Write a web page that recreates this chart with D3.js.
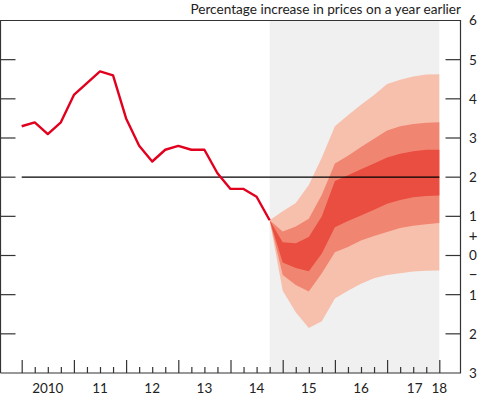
<!DOCTYPE html>
<html>
<head>
<meta charset="utf-8">
<script src="https://cdn.jsdelivr.net/npm/d3@7"></script>
<style>
  body { margin: 0; background: #fff; }
  svg { display: block; font-family: Lato, "Open Sans", sans-serif; }
</style>
</head>
<body>
<div id="chart"></div>
<script>
// quarters run from 2010 Q1 (index 0) to 2018 Q1 (index 32)
var yearLabels = ['2010', '11', '12', '13', '14', '15', '16', '17'];
var lastLabel = '18';
var yTicks = [6, 5, 4, 3, 2, 1, 0, -1, -2, -3];
var yTickLabels = ['6', '5', '4', '3', '2', '1', '0', '1', '2', '3'];

// CPI outturns, 2010 Q1 - 2014 Q4
var cpi = [3.3, 3.4, 3.1, 3.4, 4.1, 4.4, 4.7, 4.6, 3.5, 2.8, 2.4, 2.7,
           2.8, 2.7, 2.7, 2.1, 1.7, 1.7, 1.5, 0.9];

// projection bands, 2014 Q4 - 2018 Q1
var fanStart = 19;
var hi90 = [0.9, 1.13, 1.34, 1.8, 2.5, 3.3, 3.58, 3.85, 4.1, 4.38, 4.49, 4.57, 4.62, 4.63];
var hi60 = [0.9, 0.61, 0.74, 0.94, 1.55, 2.35, 2.55, 2.77, 2.98, 3.19, 3.3, 3.36, 3.39, 3.4];
var hi30 = [0.9, 0.34, 0.31, 0.47, 1.0, 1.9, 2.05, 2.2, 2.35, 2.5, 2.6, 2.66, 2.7, 2.7];
var lo30 = [0.9, -0.18, -0.32, -0.4, 0.05, 0.72, 0.88, 1.02, 1.17, 1.32, 1.42, 1.49, 1.52, 1.53];
var lo60 = [0.9, -0.5, -0.75, -0.92, -0.45, 0.08, 0.22, 0.38, 0.5, 0.6, 0.7, 0.76, 0.8, 0.83];
var lo90 = [0.9, -0.9, -1.45, -1.85, -1.68, -1.1, -0.9, -0.72, -0.58, -0.5, -0.45, -0.41, -0.39, -0.38];
var target = 2;

var w = 479, h = 395;
var frame = {left: 0.5, right: 460.5, top: 20.5, bottom: 373};
var axisColor = '#333';
var colors = {light: '#f7c0ad', mid: '#f08672', dark: '#e94e40', line: '#e2001f', shade: '#f0f0f0'};

var x = d3.scaleLinear().domain([0, 32]).range([21.7, 439.3]);
var y = d3.scaleLinear().domain([-3, 6]).range([frame.bottom, frame.top]);

var svg = d3.select('#chart').append('svg')
  .attr('width', w)
  .attr('height', h);

// projection period background
svg.append('rect')
  .attr('x', x(fanStart))
  .attr('y', frame.top)
  .attr('width', x(32) - x(fanStart))
  .attr('height', frame.bottom - frame.top)
  .attr('fill', colors.shade);

// fan bands, drawn outermost first
var fanRows = hi90.map(function(d, i) {
  return {q: fanStart + i, hi90: d, hi60: hi60[i], hi30: hi30[i], lo30: lo30[i], lo60: lo60[i], lo90: lo90[i]};
});

var bands = [['lo90', 'hi90', colors.light], ['lo60', 'hi60', colors.mid], ['lo30', 'hi30', colors.dark]];
bands.forEach(function(b) {
  var area = d3.area()
    .x(function(d) { return x(d.q); })
    .y0(function(d) { return y(d[b[0]]); })
    .y1(function(d) { return y(d[b[1]]); });
  svg.append('path')
    .datum(fanRows)
    .attr('d', area)
    .attr('fill', b[2]);
});

// inflation target line
svg.append('line')
  .attr('x1', x(0))
  .attr('x2', x(32))
  .attr('y1', y(target))
  .attr('y2', y(target))
  .attr('stroke', '#000')
  .attr('stroke-width', 1.3);

// outturn line
var valueline = d3.line()
  .x(function(d, i) { return x(i); })
  .y(function(d) { return y(d); });

svg.append('path')
  .datum(cpi)
  .attr('d', valueline)
  .attr('fill', 'none')
  .attr('stroke', colors.line)
  .attr('stroke-width', 2.4)
  .attr('stroke-linejoin', 'round');

// frame
svg.append('path')
  .attr('d', 'M' + frame.left + ',' + frame.bottom + 'V' + frame.top + 'H' + frame.right + 'V' + frame.bottom + 'H' + frame.left)
  .attr('fill', 'none')
  .attr('stroke', axisColor)
  .attr('stroke-width', 1.2);

// y ticks, both sides, inward
var yTickG = svg.append('g');
yTicks.forEach(function(v) {
  if (v === 6 || v === -3) return;
  yTickG.append('line')
    .attr('x1', frame.left).attr('x2', frame.left + 15)
    .attr('y1', y(v)).attr('y2', y(v))
    .attr('stroke', axisColor).attr('stroke-width', 1.2);
  yTickG.append('line')
    .attr('x1', frame.right - 15).attr('x2', frame.right)
    .attr('y1', y(v)).attr('y2', y(v))
    .attr('stroke', axisColor).attr('stroke-width', 1.2);
});

svg.append('g')
  .selectAll('text')
  .data(yTicks)
  .join('text')
  .attr('x', 473)
  .attr('y', function(d) { return y(d); })
  .attr('dy', '0.36em')
  .attr('text-anchor', 'middle')
  .attr('font-size', 13.5)
  .attr('fill', '#222')
  .text(function(d, i) { return yTickLabels[i]; });

// sign markers around zero
svg.append('text')
  .attr('x', 473).attr('y', y(0.5)).attr('dy', '0.36em')
  .attr('text-anchor', 'middle').attr('font-size', 15).attr('fill', '#222')
  .text('+');
svg.append('text')
  .attr('x', 473).attr('y', y(-0.5)).attr('dy', '0.36em')
  .attr('text-anchor', 'middle').attr('font-size', 15).attr('fill', '#222')
  .text('−');

// x axis: quarterly ticks, years taller
var xAxis = d3.axisBottom(x)
  .tickValues(d3.range(0, 33))
  .tickSize(-6)
  .tickFormat('');

var xg = svg.append('g')
  .attr('transform', 'translate(0,' + frame.bottom + ')')
  .call(xAxis);
xg.select('.domain').remove();
xg.selectAll('.tick line')
  .attr('stroke', axisColor)
  .attr('stroke-width', 1.2)
  .attr('y2', function(d) { return d % 4 === 0 ? -13 : -6; });

svg.append('g')
  .selectAll('text')
  .data(yearLabels)
  .join('text')
  .attr('x', function(d, i) { return x(i * 4 + 2) + (i === 7 ? 1.5 : 0); })
  .attr('y', 393)
  .attr('text-anchor', 'middle')
  .attr('font-size', 13.5)
  .attr('fill', '#222')
  .text(function(d) { return d; });

svg.append('text')
  .attr('x', x(32))
  .attr('y', 393)
  .attr('text-anchor', 'middle')
  .attr('font-size', 13.5)
  .attr('fill', '#222')
  .text(lastLabel);

// title
svg.append('text')
  .attr('x', 461)
  .attr('y', 14)
  .attr('text-anchor', 'end')
  .attr('font-size', 13.6)
  .attr('fill', '#222')
  .text('Percentage increase in prices on a year earlier');
</script>
</body>
</html>
